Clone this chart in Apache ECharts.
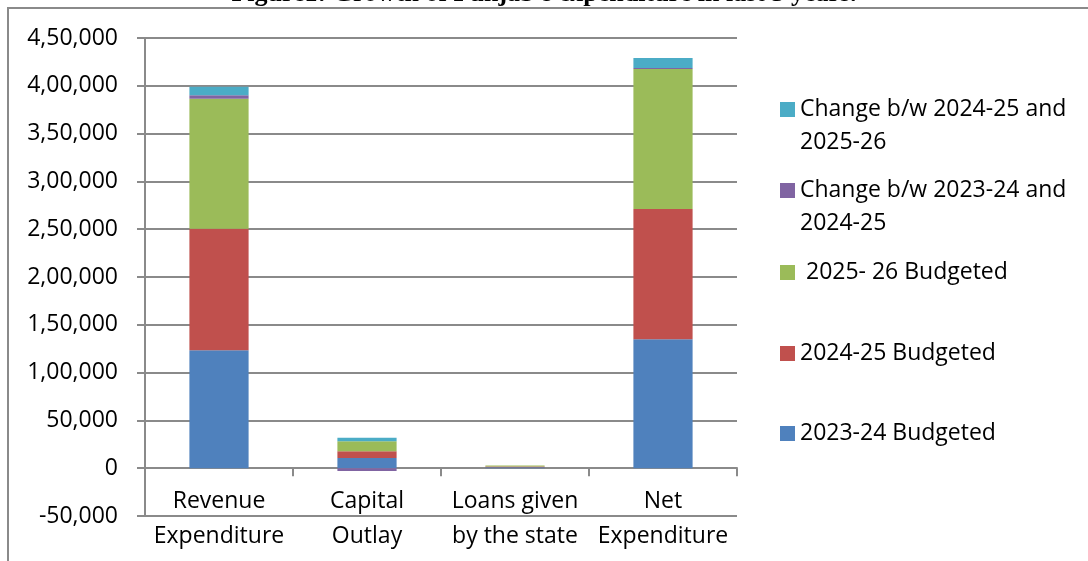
<!DOCTYPE html>
<html>
<head>
<meta charset="utf-8">
<script src="https://cdn.jsdelivr.net/npm/echarts@6/dist/echarts.min.js"></script>
<style>
	html, body { margin: 0; padding: 0; background: #fff; }
	#chart { width: 1088px; height: 561px; }
</style>
</head>
<body>
<div id="chart"></div>
<script>
// data (Rs crore)
var categories = ["Revenue\nExpenditure", "Capital\nOutlay", "Loans given\nby the state", "Net\nExpenditure"];
var seriesNames = ["2023-24 Budgeted", "2024-25 Budgeted", " 2025- 26 Budgeted", "Change b/w 2023-24 and\n2024-25", "Change b/w 2024-25 and\n2025-26"];
var budget2324 = [123500, 10800, 900, 135000];
var budget2425 = [127000, 7000, 800, 136000];
var budget2526 = [136000, 10500, 1000, 146500];
var change2324to2425 = [3500, -3000, -100, 1000];
var change2425to2526 = [9000, 3500, 200, 10500];
var yMin = -50000;
var yMax = 450000;
var yStep = 50000;

var colors = ["#4F81BD", "#C0504D", "#9BBB59", "#8064A2", "#4BACC6"];
var font = "Open Sans";
var gridGray = "#8a8a8a";

/* 4,50,000 style grouping */
var indianFmt = function(v){
	var neg = v < 0;
	var s = String(Math.abs(v));
	if(s.length > 3){
		var last3 = s.slice(-3);
		var rest = s.slice(0, -3).replace(/\B(?=(\d{2})+(?!\d))/g, ",");
		s = rest + "," + last3;
	}
	return (neg ? "-" : "") + s;
}

var allValues = [budget2324, budget2425, budget2526, change2324to2425, change2425to2526];

var series = [];
for(var i = 0; i < allValues.length; i++){
	series.push({
		name: seriesNames[i],
		type: "bar",
		stack: "total",
		barWidth: "40%",
		data: allValues[i],
		itemStyle: { color: colors[i] },
		emphasis: { disabled: true }
	});
}

// legend entries placed one by one, like the excel layout
var legendTops = [417, 337, 256, 141, 60];
var legends = [];
for(var j = 0; j < seriesNames.length; j++){
	legends.push({
		data: [seriesNames[j]],
		left: 780,
		top: legendTops[j],
		padding: 0,
		icon: "rect",
		itemWidth: 15,
		itemHeight: 15,
		selectedMode: false,
		// blank first line so the square sits next to the first text line
		formatter: function(name){
			return name.indexOf("\n") >= 0 ? "\n" + name : name;
		},
		textStyle: { fontFamily: font, fontSize: 23, lineHeight: 33, color: "#000" }
	});
}

var chart = echarts.init(document.getElementById("chart"));
chart.setOption({
	animation: false,
	backgroundColor: "#fff",
	title: {
		text: "Figure1: Growth of Punjab\u2019s expenditure in last 3 years.",
		left: "center",
		top: -19,
		padding: 0,
		textStyle: { fontFamily: "Liberation Serif", fontWeight: "bold", fontSize: 26, lineHeight: 26, color: "#000" }
	},
	graphic: [{
		type: "polyline",
		shape: { points: [[8, 561], [8, 8], [1088, 8]] },
		style: { stroke: gridGray, lineWidth: 2, fill: null }
	}],
	legend: legends,
	grid: { left: 145, right: 351, top: 38, bottom: 45, containLabel: false, outerBoundsMode: "none" },
	xAxis: {
		type: "category",
		data: categories,
		axisLine: { onZero: true, lineStyle: { color: gridGray, width: 2 } },
		axisTick: { show: true, interval: 0, length: 8, lineStyle: { color: gridGray, width: 2 } },
		// labels hang at the bottom of the plot like excel's "low" position
		axisLabel: { interval: 0, margin: -32, fontFamily: font, fontSize: 23, lineHeight: 35, color: "#000" }
	},
	yAxis: {
		type: "value",
		min: yMin,
		max: yMax,
		interval: yStep,
		axisLine: { show: true, lineStyle: { color: gridGray, width: 2 } },
		axisTick: { show: true, length: 8, lineStyle: { color: gridGray, width: 2 } },
		axisLabel: { margin: 27, fontFamily: font, fontSize: 23, color: "#000", formatter: indianFmt },
		splitLine: { lineStyle: { color: gridGray, width: 2 } }
	},
	series: series
});
</script>
</body>
</html>
